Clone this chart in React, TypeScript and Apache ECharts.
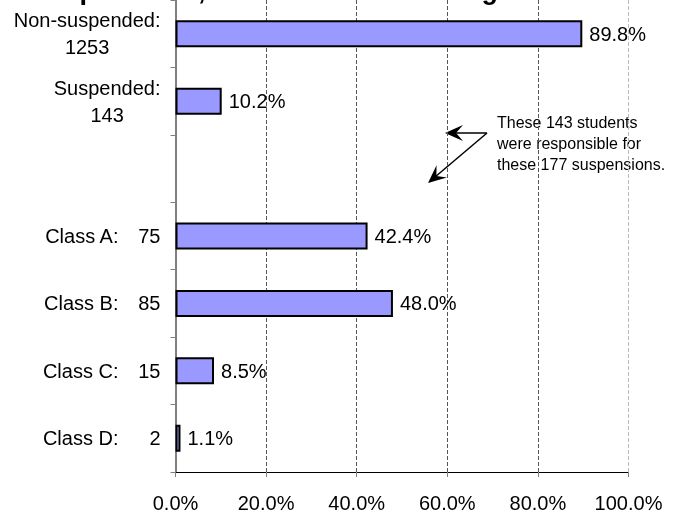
import React, { useEffect, useRef } from "react";
import * as echarts from "echarts";

// ---- data ----
const categoryNames: string[] = ["Non-suspended:", "Suspended:", "", "Class A:", "Class B:", "Class C:", "Class D:"];
const categoryCounts: (number | null)[] = [1253, 143, null, 75, 85, 15, 2];
const twoLine: boolean[] = [true, true, false, false, false, false, false];
const percentValues: (number | null)[] = [89.8, 10.2, null, 42.4, 48.0, 8.5, 1.1];
const xTicks: number[] = [0, 20, 40, 60, 80, 100];

const titleText = "Suspensions, Total Students Among Grades 6-8";
const noteText = "These 143 students\nwere responsible for\nthese 177 suspensions.";

const FONT = "'Liberation Sans', Arial, sans-serif";

function arrowHead(tip: [number, number], from: [number, number], len: number, half: number, notch: number) {
  const dx = tip[0] - from[0];
  const dy = tip[1] - from[1];
  const l = Math.sqrt(dx * dx + dy * dy);
  const ux = dx / l, uy = dy / l;
  const px = -uy, py = ux;
  const bx = tip[0] - len * ux, by = tip[1] - len * uy;
  const nx = tip[0] - notch * ux, ny = tip[1] - notch * uy;
  return [
    [tip[0], tip[1]],
    [bx + half * px, by + half * py],
    [nx, ny],
    [bx - half * px, by - half * py],
  ];
}

export default function App() {
  const ref = useRef<HTMLDivElement>(null);
  useEffect(() => {
    if (!ref.current) return;
    const chart = echarts.init(ref.current, null, { renderer: "svg" });
    const labels = categoryNames.map((n, i) => {
      const c = categoryCounts[i];
      if (!n) return "";
      return twoLine[i] ? `${n}\n${c}` : `${n}|${c}`;
    });
    const origin: [number, number] = [487, 133];
    const tip1: [number, number] = [445, 133];
    const tip2: [number, number] = [428, 183];
    chart.setOption({
      animation: false,
      textStyle: { fontFamily: FONT },
      grid: { left: 175.5, right: 50.5, top: 0, bottom: 41, containLabel: false },
      xAxis: {
        type: "value",
        min: xTicks[0],
        max: xTicks[xTicks.length - 1],
        interval: xTicks[1] - xTicks[0],
        axisLine: { show: true, lineStyle: { color: "#000", width: 1 } },
        axisTick: { show: true, length: 5, lineStyle: { color: "#808080" } },
        axisLabel: {
          formatter: (v: number) => v.toFixed(1) + "%",
          fontSize: 20,
          color: "#000",
          margin: 21,
          fontFamily: FONT,
        },
        splitLine: {
          show: true,
          lineStyle: { type: [4, 2], color: ["#555", "#555", "#555", "#555", "#555", "#bbb"], width: 1 },
        },
      },
      yAxis: {
        type: "category",
        inverse: true,
        data: labels,
        axisLine: { show: true, lineStyle: { color: "#808080", width: 2 } },
        axisTick: { show: true, length: 5, lineStyle: { color: "#808080", width: 1 } },
        axisLabel: {
          margin: 15,
          fontSize: 20,
          color: "#000",
          fontFamily: FONT,
          formatter: (v: string) => {
            if (!v) return "";
            if (v.indexOf("\n") >= 0) {
              return v
                .split("\n")
                .map((s) => `{c|${s}}`)
                .join("\n");
            }
            const [n, c] = v.split("|");
            return `{n|${n}}{v|${c}}`;
          },
          rich: {
            c: { fontSize: 20, align: "center", lineHeight: 27, fontFamily: FONT, color: "#000" },
            n: { fontSize: 20, fontFamily: FONT, color: "#000" },
            v: { fontSize: 20, width: 42, align: "right", fontFamily: FONT, color: "#000" },
          },
        },
        splitLine: { show: false },
      },
      series: [
        {
          type: "bar",
          data: percentValues.map((v) => (v == null ? "-" : v)),
          barWidth: "40%",
          itemStyle: { color: "#9999FF", borderColor: "#000", borderWidth: 2 },
          label: {
            show: true,
            position: "right",
            distance: 7,
            fontSize: 20,
            color: "#000",
            fontFamily: FONT,
            formatter: (p: any) => Number(p.value).toFixed(1) + "%",
          },
        },
      ],
      graphic: [
        {
          type: "text",
          x: 30,
          y: -10,
          style: {
            text: titleText,
            font: `bold 27px ${FONT}`,
            fill: "#000",
            verticalAlign: "middle",
            align: "left",
          },
        },
        {
          type: "text",
          x: 497,
          y: 112,
          z: -1,
          style: {
            text: noteText,
            font: `16px ${FONT}`,
            lineHeight: 21,
            fill: "#000",
            verticalAlign: "top",
            align: "left",
          },
        },
        {
          type: "line",
          shape: { x1: origin[0], y1: origin[1], x2: tip1[0] + 10, y2: tip1[1] },
          style: { stroke: "#000", lineWidth: 1.5 },
        },
        {
          type: "polygon",
          shape: { points: arrowHead(tip1, origin, 18, 8, 11) },
          style: { fill: "#000" },
        },
        {
          type: "line",
          shape: {
            x1: origin[0],
            y1: origin[1],
            x2: tip2[0] + 10 * 0.763,
            y2: tip2[1] - 10 * 0.647,
          },
          style: { stroke: "#000", lineWidth: 1.5 },
        },
        {
          type: "polygon",
          shape: { points: arrowHead(tip2, origin, 18, 8, 11) },
          style: { fill: "#000" },
        },
      ],
    });
    return () => chart.dispose();
  }, []);
  return (
    <div
      ref={ref}
      style={{ position: "fixed", left: 0, top: 0, width: 679, height: 513 }}
    />
  );
}
